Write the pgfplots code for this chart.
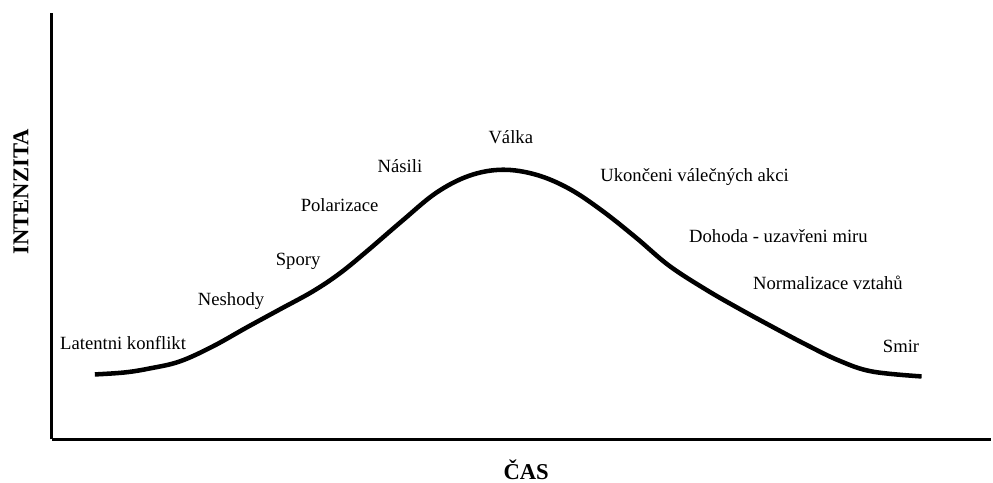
\documentclass[border=0pt]{standalone}
\usepackage{fontspec}
\setmainfont{Liberation Serif}
\usepackage{pgfplots}
\pgfplotsset{compat=1.18}
\begin{document}
\begin{tikzpicture}[x=1pt,y=1pt]
\begin{axis}[
  scale only axis,
  width=705.75pt, height=320.25pt,
  xmin=52, xmax=993, ymin=43, ymax=470,
  enlargelimits=false,
  axis lines=left,
  axis line style={-, line width=2.3pt},
  xtick=\empty, ytick=\empty,
  clip=false,
]
\path (axis cs:0,0) rectangle (axis cs:993,483);
\addplot[black, line width=3.4pt, smooth, tension=0.6] coordinates {
(95,108) (125,110) (150,114) (180,121) (213,136) (247,155) (280,173)
(313,191) (340,209) (367,231) (403,262) (437,290) (470,307) (503,313)
(537,308) (570,294) (603,272) (637,245) (670,217) (707,193) (740,174)
(773,156) (807,138) (840,122) (873,111) (923,106)
};
\begin{scope}[every node/.style={anchor=base west, inner sep=0pt, font=\fontsize{14}{16}\selectfont}]
\node at (axis cs:60,133) {Latentni konflikt};
\node at (axis cs:198,177) {Neshody};
\node at (axis cs:276,217) {Spory};
\node at (axis cs:301,271) {Polarizace};
\node at (axis cs:378,310) {Násili};
\node at (axis cs:489,339) {Válka};
\node at (axis cs:601,301) {Ukončeni válečných akci};
\node at (axis cs:690,240) {Dohoda - uzavřeni miru};
\node at (axis cs:754,193) {Normalizace vztahů};
\node at (axis cs:884,130) {Smir};
\end{scope}
\node[rotate=90, inner sep=0pt, font=\fontsize{17}{20}\selectfont\bfseries] at (axis cs:21,291) {INTENZITA};
\node[anchor=base, inner sep=0pt, font=\fontsize{17}{20}\selectfont\bfseries] at (axis cs:527,3) {ČAS};
\end{axis}
\end{tikzpicture}
\end{document}
